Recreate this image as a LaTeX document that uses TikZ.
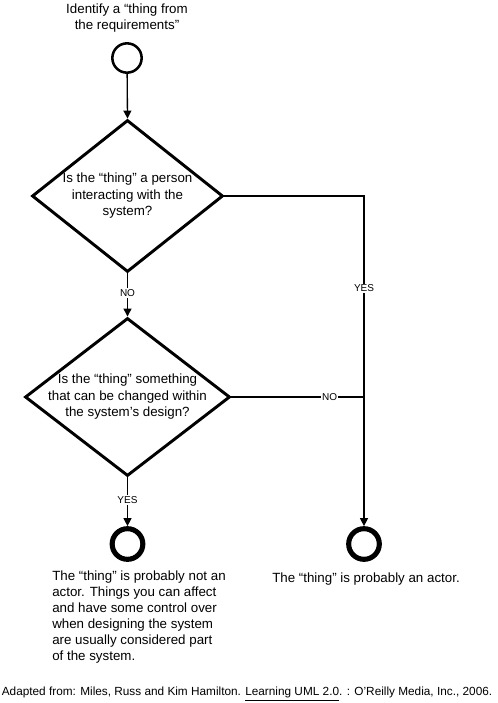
\documentclass[tikz,border=0pt]{standalone}
\usepackage{fontspec}
\setmainfont{Liberation Sans}
\usetikzlibrary{shapes.geometric,arrows.meta}
\begin{document}
\begin{tikzpicture}[x=0.75pt,y=-0.75pt,
  txt/.style={font=\fontsize{10}{12}\selectfont, align=center, inner sep=0pt},
  decision/.style={diamond, draw, line width=2.2pt, inner sep=-14pt, align=center,
    font=\fontsize{10}{12.4}\selectfont},
  startnode/.style={circle, draw, line width=1.9pt, minimum size=22pt, inner sep=0pt},
  endnode/.style={circle, draw, line width=3.8pt, minimum size=23pt, inner sep=0pt},
  conn/.style={line width=1pt},
  arr/.style={conn, -{Triangle[length=6pt,width=6pt]}},
  lbl/.style={font=\fontsize{7.5}{9}\selectfont, fill=white, inner sep=1pt}]
\useasboundingbox (0,0) rectangle (497,703);
\node[txt] (toptext) at (127,18) {Identify a “thing from\\the requirements”};
\node[startnode] (start) at (127,58) {};
\node[decision, minimum width=143.25pt, minimum height=114pt] (d1) at (127.5,196)
  {Is the “thing” a person\\interacting with the\\system?};
\node[decision, minimum width=153.75pt, minimum height=118.5pt] (d2) at (127.5,397)
  {Is the “thing” something\\that can be changed within\\the system’s design?};
\node[endnode] (e1) at (127.5,544) {};
\node[endnode] (e2) at (364,544) {};
\coordinate (c1) at (364,196);
\coordinate (c2) at (364,397);
\draw[arr] (start) -- (d1.north);
\draw[arr] (d1.south) -- node[lbl, pos=0.46] {NO} (d2.north);
\draw[arr] (d1.east) -- (c1) -- node[lbl, pos=0.28] {YES} (e2.north);
\draw[conn] (d2.east) -- node[lbl, pos=0.74] {NO} (c2);
\draw[arr] (d2.south) -- node[lbl, pos=0.46] {YES} (e1.north);
\node[txt, align=left, anchor=north west] (notactor) at (52,571)
  {The “thing” is probably not an\\actor. Things you can affect\\and have some control over\\when designing the system\\are usually considered part\\of the system.};
\node[txt] (actor) at (366,579) {The “thing” is probably an actor.};
\node[font=\fontsize{8.85}{10}\selectfont, inner sep=0pt] (cite) at (247,694)
  {Adapted from: Miles, Russ and Kim Hamilton. \underline{Learning UML 2.0}. : O'Reilly Media, Inc., 2006.};
\end{tikzpicture}
\end{document}
